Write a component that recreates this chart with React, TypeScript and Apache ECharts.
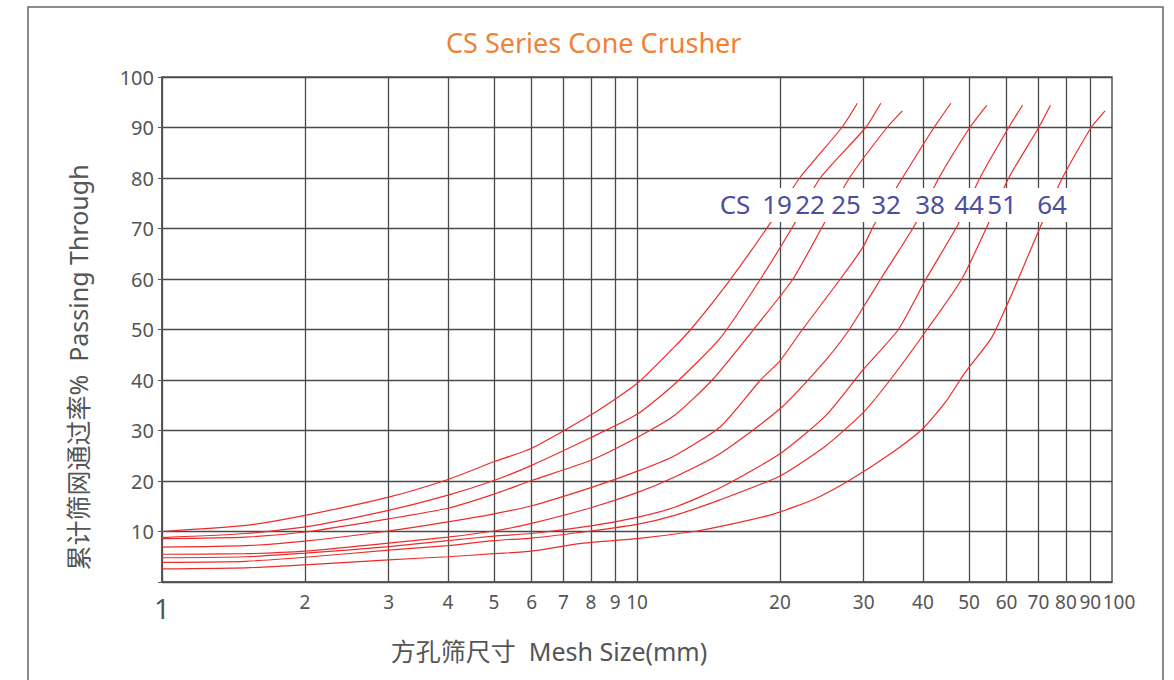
import React, { useEffect, useRef } from 'react';
import * as echarts from 'echarts';

// Axis tick values
const meshTicks = [1, 2, 3, 4, 5, 6, 7, 8, 9, 10, 20, 30, 40, 50, 60, 70, 80, 90, 100];

// Curve labels
const modelNames = ['CS19', 'CS22', 'CS25', 'CS32', 'CS38', 'CS44', 'CS51', 'CS64'];
const annotationTexts = ['CS', '19', '22', '25', '32', '38', '44', '51', '64'];

// Each curve: [mesh size (mm), passing %]
const cs19 = [[1, 10.0], [1.5, 11.2], [2, 13.2], [3, 16.8], [4, 20.3], [5, 23.8], [6, 26.5], [8, 33.1], [10, 39.3], [12, 46.6], [13, 50.1], [15.6, 59.5], [19, 70.8], [22, 80], [27, 90], [29.1, 94.8]];
const cs22 = [[1, 8.8], [1.5, 9.6], [2, 10.9], [3, 14.2], [4, 17.2], [5, 20.1], [6, 23.1], [8, 28.6], [10, 33.2], [12, 39.2], [15, 48.4], [18.2, 60], [21.4, 70.8], [24.3, 80], [30.3, 90], [32.6, 94.8]];
const cs25 = [[1, 8.6], [1.5, 8.9], [2, 9.9], [3, 12.5], [4, 14.6], [5, 17.4], [6, 20.1], [8, 24.1], [10, 28.6], [12, 33.0], [14.4, 40], [17.6, 50], [21.3, 60], [24.7, 70.8], [28.0, 80], [33.6, 90], [36.2, 93.3]];
const cs32 = [[1, 6.9], [1.5, 7.2], [2, 8.1], [3, 10.1], [4, 11.9], [5, 13.5], [6, 15.1], [8, 18.7], [10, 21.9], [12, 25.0], [15, 30.8], [18.2, 40], [20, 43.8], [22.3, 50], [26.8, 60], [29.9, 66.3], [31.6, 70.8], [36.2, 80], [42.2, 90], [45.8, 94.8]];
const cs38 = [[1, 5.5], [1.5, 5.6], [2, 6.1], [3, 7.7], [4, 8.9], [5, 10.1], [6, 11.6], [8, 14.7], [10, 17.7], [12, 20.8], [15, 25.5], [20, 34.3], [25, 44], [28, 50], [29.9, 54.3], [32.6, 60], [38.5, 70.8], [43.2, 80], [50.2, 90], [54.5, 94.4]];
const cs44 = [[1, 4.8], [1.5, 5.0], [2, 5.7], [3, 7.0], [4, 8.2], [5, 9.1], [6, 9.6], [8, 11.1], [10, 12.8], [12, 14.8], [15, 18.7], [20, 25.4], [25, 33], [29.9, 42], [35.5, 50], [40.6, 60], [47.4, 70.8], [52.7, 80], [60.6, 90], [64.8, 94.4]];
const cs51 = [[1, 3.9], [1.5, 4.1], [2, 4.9], [3, 6.3], [4, 7.2], [5, 8.2], [6, 8.7], [8, 10.1], [10, 11.4], [12, 13.2], [15, 16.3], [20, 21], [25, 27], [29.9, 33.5], [34.1, 40], [40.8, 50], [48.3, 60], [54.8, 70.8], [60.6, 80], [70.1, 90], [74.2, 94.4]];
const cs64 = [[1, 2.6], [1.5, 2.8], [2, 3.4], [3, 4.4], [4, 5.0], [5, 5.6], [6, 6.1], [7.7, 7.7], [10, 8.6], [13.4, 10.1], [15, 11], [19.3, 13.4], [23.6, 16.4], [28.3, 20.4], [34.9, 26], [40, 30.4], [44.6, 35.6], [49, 41.4], [55.8, 48.4], [60.6, 55.6], [63.5, 60], [71, 70.8], [78.6, 80], [90.4, 90], [96.7, 93.3]];

const curves = [cs19, cs22, cs25, cs32, cs38, cs44, cs51, cs64];

const FONT = "'Noto Sans', 'Noto Sans CJK SC', sans-serif";

export default function App() {
  const ref = useRef<HTMLDivElement>(null);
  useEffect(() => {
    document.body.style.margin = '0';
    if (!ref.current) return;
    const chart = echarts.init(ref.current, null, { renderer: 'svg' });
    const labelX = [735, 777, 810, 846, 886, 930, 969, 1002, 1052];
    // all ticks but the last on the main axis; the last one (kept just inside
    // the log extent for floating-point rounding) on an overlay axis
    const mainTicks = meshTicks.slice(0, -1);
    const lastTick = [meshTicks[meshTicks.length - 1] * (1 - 1e-9)];
    const rich = {
      big: { fontSize: 28, color: '#555', fontFamily: FONT, padding: [2, 0, 0, 0] },
      shift: { fontSize: 19, color: '#555', fontFamily: FONT, padding: [0, 0, 0, 14] },
    };
    const labelStyle = {
      color: '#555',
      fontSize: 19,
      fontFamily: FONT,
      margin: 10,
      rich,
    };
    chart.setOption({
      animation: false,
      backgroundColor: '#ffffff',
      title: {
        text: 'CS Series Cone Crusher',
        left: 441,
        top: 24,
        textStyle: { color: '#ef8236', fontSize: 27, fontWeight: 'normal', fontFamily: FONT },
      },
      grid: {
        left: 162,
        right: 62,
        top: 77,
        bottom: 98,
        show: true,
        borderColor: '#555',
        borderWidth: 1.5,
      },
      xAxis: [
        {
          type: 'log',
          logBase: 10,
          min: 1,
          max: 100,
          position: 'bottom',
          name: '方孔筛尺寸  Mesh Size(mm)',
          nameLocation: 'middle',
          nameGap: 56,
          nameTextStyle: { fontSize: 25, color: '#555', fontFamily: FONT, padding: [0, 176, 0, 0] },
          axisLine: { show: true, lineStyle: { color: '#555', width: 1.5 } },
          axisTick: { show: false, customValues: mainTicks },
          axisLabel: {
            ...labelStyle,
            customValues: mainTicks,
            formatter: (v: number) => (Math.round(v) === 1 ? '{big|1}' : String(Math.round(v))),
          },
          splitLine: { show: true, lineStyle: { color: '#4a4a4a', width: 1.3 } },
        },
        {
          type: 'log',
          logBase: 10,
          min: 1,
          max: 100,
          position: 'bottom',
          offset: 0,
          axisLine: { show: false },
          axisTick: { show: false, customValues: lastTick },
          axisLabel: {
            ...labelStyle,
            customValues: lastTick,
            showMaxLabel: true,
            formatter: (v: number) => '{shift|' + Math.round(v) + '}',
          },
          splitLine: { show: false },
        },
      ],
      yAxis: {
        type: 'value',
        min: 0,
        max: 100,
        interval: 10,
        name: '累计筛网通过率%  Passing Through',
        nameLocation: 'middle',
        nameGap: 72,
        nameRotate: 90,
        nameTextStyle: { fontSize: 25, color: '#555', fontFamily: FONT, padding: [0, 76, 0, 0] },
        axisLine: { show: true, lineStyle: { color: '#555', width: 1.5 } },
        axisTick: { show: true, length: 4, lineStyle: { color: '#555' } },
        axisLabel: {
          color: '#555',
          fontSize: 20,
          fontFamily: FONT,
          margin: 8,
          formatter: (v: number) => (v === 0 ? '' : String(v)),
        },
        splitLine: { show: true, lineStyle: { color: '#4a4a4a', width: 1.3 } },
      },
      series: curves.map((d, i) => ({
        name: modelNames[i],
        type: 'line',
        xAxisIndex: 0,
        data: d,
        showSymbol: false,
        smooth: 0.2,
        lineStyle: { color: '#ee2b2b', width: 1.2 },
        z: 3,
      })),
      graphic: [
        {
          type: 'rect',
          silent: true,
          z: -10,
          shape: { x: 28, y: 7, width: 1135, height: 720 },
          style: { fill: 'none', stroke: '#666', lineWidth: 1.5 },
        },
        {
          type: 'rect',
          silent: true,
          z: 100,
          shape: { x: 716, y: 188, width: 353, height: 34 },
          style: { fill: '#ffffff' },
        },
        ...annotationTexts.map((t, i) => ({
          type: 'text',
          silent: true,
          z: 101,
          x: labelX[i],
          y: 204,
          style: {
            text: t,
            fill: '#4b4ea0',
            fontSize: 26,
            fontFamily: FONT,
            align: 'center',
            verticalAlign: 'middle',
          },
        })),
      ],
    });
    return () => chart.dispose();
  }, []);
  return <div ref={ref} style={{ width: 1174, height: 680 }} />;
}
